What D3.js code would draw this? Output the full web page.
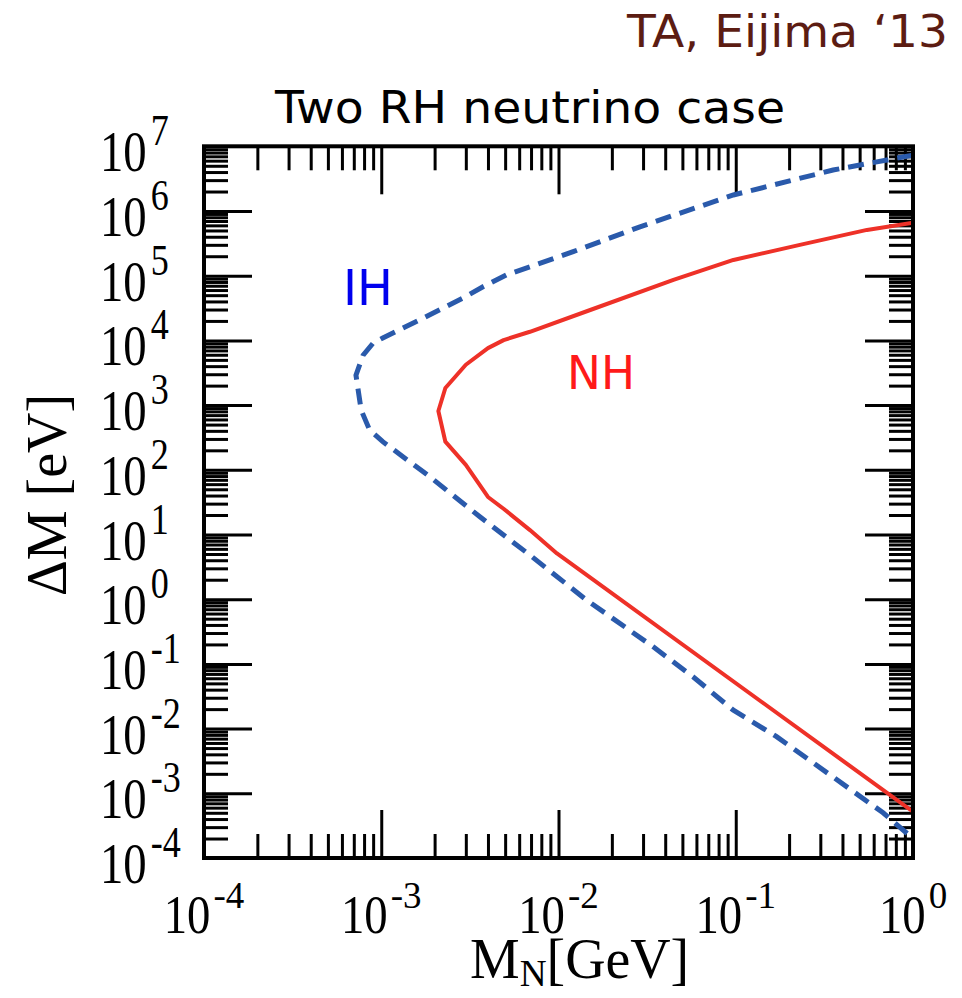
<!DOCTYPE html>
<html>
<head>
<meta charset="utf-8">
<script src="https://cdn.jsdelivr.net/npm/d3@7"></script>
<style>
  body { margin: 0; background: #fff; }
  svg { display: block; }
</style>
</head>
<body>
<svg id="chart" width="962" height="998"></svg>
<script>
// Decade exponents labelled on each axis
const xTickExponents = [-4, -3, -2, -1, 0];
const yTickExponents = [7, 6, 5, 4, 3, 2, 1, 0, -1, -2, -3, -4];

// Normal hierarchy boundary (solid red): M_N [GeV] vs ΔM [eV]
const nhMass   = [1.0, 0.55, 0.23, 0.097, 0.0445, 0.0151, 0.0069, 0.0049, 0.0040, 0.0030, 0.0023, 0.0021,
                  0.0023, 0.0030, 0.0040, 0.0049, 0.0069, 0.0098, 1.0];
const nhDeltaM = [6.6e5, 5.1e5, 3.0e5, 1.75e5, 8.6e4, 2.95e4, 1.36e4, 1.01e4, 7.6e3, 4.2e3, 1.84e3, 810,
                  272, 119, 38, 25, 11.7, 5.1, 5.2e-4];

// Inverted hierarchy boundary (dashed blue)
const ihMass   = [1.0, 0.354, 0.097, 0.0288, 0.0121, 0.0051, 0.00377, 0.00289, 0.00172, 0.00102, 0.0009,
                  0.00079, 0.00072, 0.00077, 0.00086, 0.00102, 0.00188, 0.0036, 0.0069, 0.0144, 0.0341,
                  0.0574, 0.0965, 0.170, 0.678, 1.0];
const ihDeltaM = [7.3e6, 4.3e6, 1.77e6, 5.7e5, 2.35e5, 1.03e5, 6.8e4, 4.5e4, 2.2e4, 1.09e4, 9.1e3,
                  5.9e3, 2.9e3, 840, 412, 272, 78, 18.8, 4.8, 0.97, 0.185,
                  0.0634, 0.0194, 0.0075, 5.0e-4, 2.0e-4];

const svg = d3.select("#chart");
const plotL = 204, plotR = 913, plotT = 146.3, plotB = 858;

const x = d3.scaleLog().domain([1e-4, 1]).range([plotL, plotR]);
const y = d3.scaleLog().domain([1e-4, 1e7]).range([plotB, plotT]);

// minor ticks 2..9 within each decade of a domain
function minorTicks(domain) {
  const lo = Math.round(Math.log10(domain[0])), hi = Math.round(Math.log10(domain[1]));
  const out = [];
  for (let e = lo; e < hi; e++) for (let k = 2; k <= 9; k++) out.push(k * Math.pow(10, e));
  return out;
}
const xMajor = xTickExponents.slice(1, -1).map(e => Math.pow(10, e));
const yMajor = yTickExponents.slice(1, -1).map(e => Math.pow(10, e));
const xMinor = minorTicks(x.domain());
const yMinor = minorTicks(y.domain());

const minorLen = 24, majorLen = 48;

function drawAxis(axisFn, scale, values, len, transform) {
  const g = svg.append("g")
    .attr("transform", transform)
    .call(axisFn(scale).tickValues(values).tickSize(-len).tickFormat(""));
  g.select(".domain").remove();
  g.selectAll(".tick line").attr("stroke", "#000").attr("stroke-width", 3);
  g.selectAll(".tick text").remove();
}
[[xMinor, minorLen], [xMajor, majorLen]].forEach(([v, l]) => {
  drawAxis(d3.axisBottom, x, v, l, `translate(0,${plotB})`);
  drawAxis(d3.axisTop, x, v, l, `translate(0,${plotT})`);
});
[[yMinor, minorLen], [yMajor, majorLen]].forEach(([v, l]) => {
  drawAxis(d3.axisLeft, y, v, l, `translate(${plotL},0)`);
  drawAxis(d3.axisRight, y, v, l, `translate(${plotR},0)`);
});

// curves
svg.append("clipPath").attr("id", "plotClip")
  .append("rect").attr("x", plotL).attr("y", plotT).attr("width", plotR - plotL).attr("height", plotB - plotT);

const line = d3.line().x(d => x(d[0])).y(d => y(d[1]));
const nh = nhMass.map((m, i) => [m, nhDeltaM[i]]);
const ih = ihMass.map((m, i) => [m, ihDeltaM[i]]);

svg.append("path").datum(ih).attr("d", line).attr("clip-path", "url(#plotClip)")
  .attr("fill", "none").attr("stroke", "#2a5aab").attr("stroke-width", 5)
  .attr("stroke-dasharray", "16,9");
svg.append("path").datum(nh).attr("d", line).attr("clip-path", "url(#plotClip)")
  .attr("fill", "none").attr("stroke", "#ee3128").attr("stroke-width", 4)
  .attr("stroke-linejoin", "round");

// frame
svg.append("rect").attr("x", plotL).attr("y", plotT)
  .attr("width", plotR - plotL).attr("height", plotB - plotT)
  .attr("fill", "none").attr("stroke", "#000").attr("stroke-width", 4);

// tick labels: "10" with a superscript exponent
const serif = "'Liberation Serif', 'Times New Roman', serif";
const sans = "'DejaVu Sans', Verdana, sans-serif";

xTickExponents.forEach(e => {
  const g = svg.append("g").attr("transform", `translate(${x(Math.pow(10, e))},933)`);
  const sx = 0.85;
  const base = g.append("text").text("10").attr("font-family", serif).attr("font-size", 55).attr("fill", "#000");
  const ex = g.append("text").text(String(e)).attr("font-family", serif).attr("font-size", 37)
    .attr("y", -25).attr("fill", "#000");
  const bw = base.node().getComputedTextLength() * sx;
  const ew = ex.node().getComputedTextLength();
  const start = -(bw + 3 + ew) / 2;
  base.attr("transform", `translate(${start},0) scale(${sx},1)`);
  ex.attr("x", start + bw + 3);
});

yTickExponents.forEach(e => {
  const py = y(Math.pow(10, e));
  const sx = 0.834;
  const base = svg.append("text").text("10").attr("font-family", serif).attr("font-size", 56).attr("fill", "#000")
    .attr("transform", `translate(100,${py + 25}) scale(${sx},1)`);
  const bw = base.node().getComputedTextLength() * sx;
  svg.append("text").text(String(e)).attr("font-family", serif).attr("font-size", 44).attr("fill", "#000")
    .attr("transform", `translate(${100 + bw + 4},${py - 1}) scale(0.82,1)`);
});

// axis titles
svg.append("text").attr("transform", "translate(66,495) rotate(-90)")
  .attr("text-anchor", "middle").attr("font-family", serif).attr("font-size", 56).attr("fill", "#000")
  .text("ΔM [eV]");

const xt = svg.append("text").attr("font-family", serif).attr("font-size", 57).attr("fill", "#000")
  .attr("transform", "translate(470,978) scale(0.98,1)");
xt.append("tspan").text("M");
xt.append("tspan").attr("font-size", 38).attr("dy", 8).text("N");
xt.append("tspan").attr("dy", -8).text("[GeV]");

// titles and curve labels
svg.append("text").attr("x", 275).attr("y", 123).attr("font-family", sans).attr("font-size", 45)
  .attr("textLength", 510).attr("lengthAdjust", "spacingAndGlyphs").attr("fill", "#000")
  .text("Two RH neutrino case");
svg.append("text").attr("x", 627).attr("y", 47).attr("font-family", sans).attr("font-size", 45)
  .attr("textLength", 321).attr("lengthAdjust", "spacingAndGlyphs").attr("fill", "#5c1c12")
  .text("TA, Eijima \u201813");
svg.append("text").attr("x", 343).attr("y", 305).attr("font-family", sans).attr("font-size", 49)
  .attr("textLength", 50).attr("lengthAdjust", "spacingAndGlyphs").attr("fill", "#0000ee")
  .text("IH");
svg.append("text").attr("x", 567).attr("y", 389).attr("font-family", sans).attr("font-size", 47)
  .attr("textLength", 68).attr("lengthAdjust", "spacingAndGlyphs").attr("fill", "#ff1a1a")
  .text("NH");
</script>
</body>
</html>
